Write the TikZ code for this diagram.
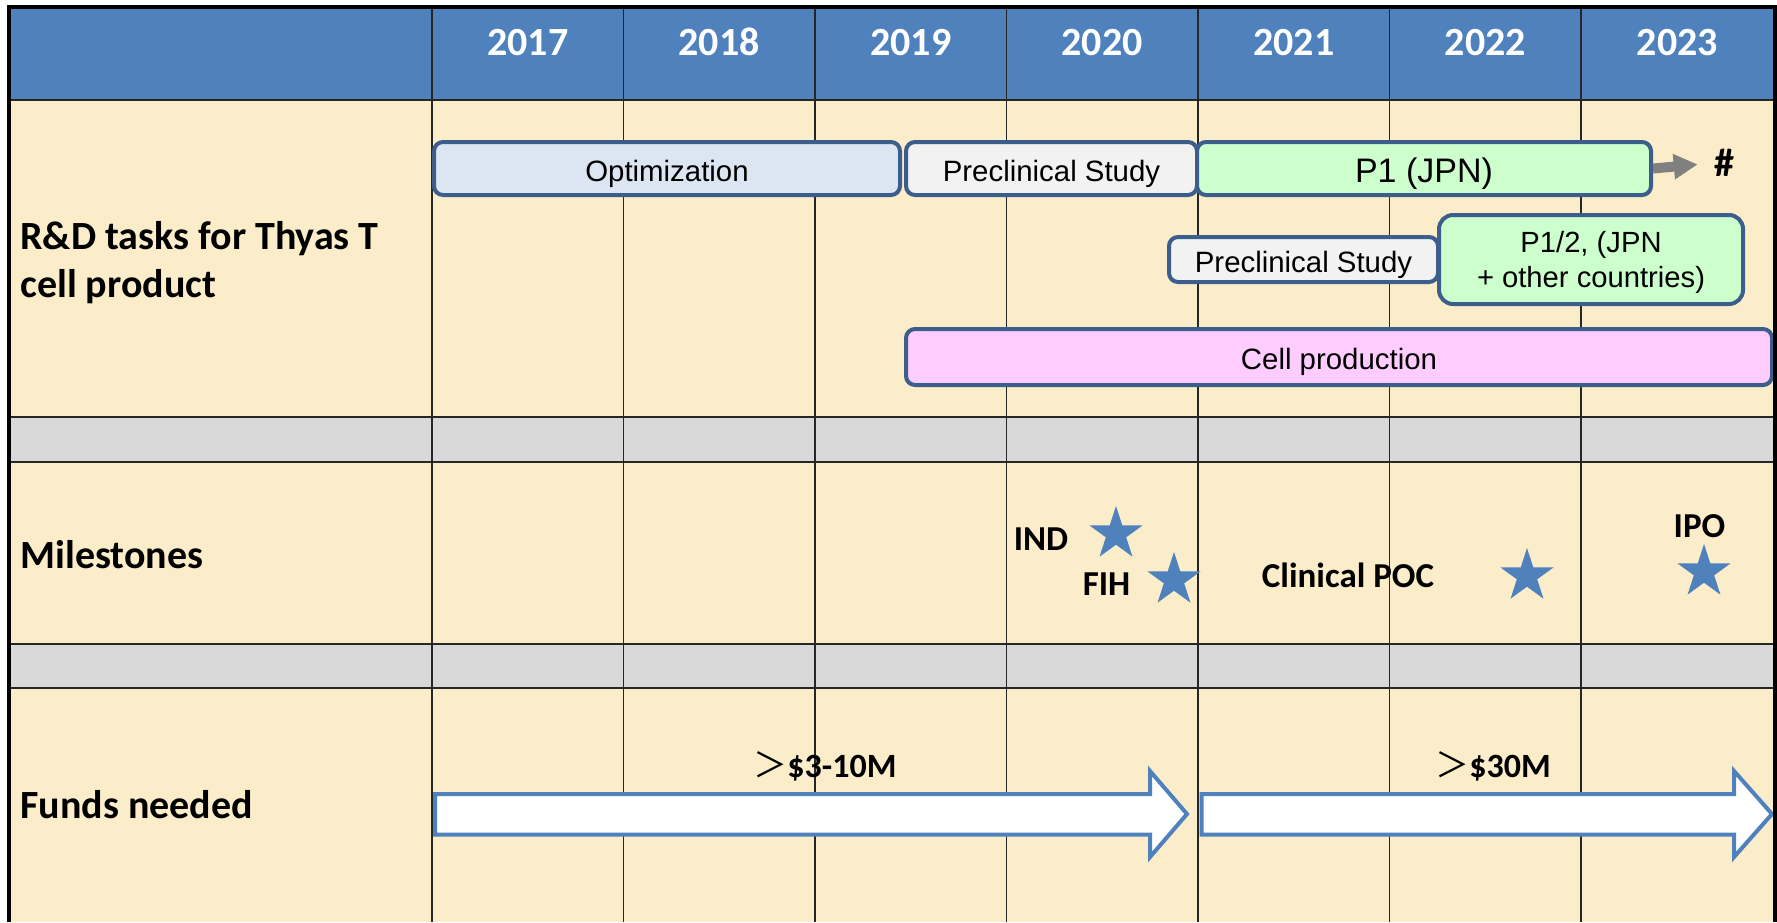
\documentclass[tikz,border=0pt]{standalone}
\usepackage{fontspec}
\setmainfont{Carlito}
\newfontfamily\arial{Liberation Sans}
\newfontfamily\cjk{Noto Sans CJK JP}
\usetikzlibrary{shapes.geometric,arrows.meta}
\definecolor{hdrblue}{HTML}{4F81BD}
\definecolor{cream}{HTML}{FBEDC9}
\definecolor{rowgray}{HTML}{D9D9D9}
\definecolor{barline}{HTML}{3C5E8C}
\definecolor{optfill}{HTML}{DCE6F2}
\definecolor{prefill}{HTML}{F2F2F2}
\definecolor{pgreen}{HTML}{CCFFCC}
\definecolor{cellfill}{HTML}{FFCCFF}
\definecolor{arrowgray}{HTML}{808080}
\begin{document}
\begin{tikzpicture}[x=0.5pt,y=-0.5pt,
  gridline/.style={draw=black!85, line width=0.6pt},
  bar/.style={draw=barline, line width=2pt, rounded corners=4.5pt, inner sep=0pt,
    font=\arial\fontsize{14.7}{17.5}\selectfont, text height=12.5pt, text depth=0pt},
  yearlbl/.style={anchor=base, text=white, font=\bfseries\fontsize{20}{24}\selectfont},
  rowlbl/.style={anchor=base west, inner sep=0pt, font=\bfseries\fontsize{20}{24}\selectfont},
  mslbl/.style={anchor=base, inner sep=0pt, font=\bfseries\fontsize{17.5}{21}\selectfont},
  milestar/.style={star, star points=5, star point ratio=2.618, fill=hdrblue, draw=none,
    inner sep=0pt, minimum size=28pt},
  fundarrow/.style={draw=hdrblue, line width=2pt, fill=white, miter limit=10},
  grayarrow/.style={draw=arrowgray, line width=5pt, -{Triangle[length=12pt,width=12pt]}}
]
\useasboundingbox (0,0) rectangle (1777,922);
% backgrounds
\fill[white] (0,0) rectangle (1777,922);
\fill[hdrblue] (9,7) rectangle (1775,100);
\fill[cream] (9,100) rectangle (1775,417);
\fill[rowgray] (9,417) rectangle (1775,462);
\fill[cream] (9,462) rectangle (1775,644);
\fill[rowgray] (9,644) rectangle (1775,688);
\fill[cream] (9,688) rectangle (1775,922);
% grid
\foreach \x in {432,623.5,815,1006.5,1198,1389.5,1581}
  \draw[gridline] (\x,7) -- (\x,922);
\foreach \y in {100,417,462,644,688}
  \draw[gridline] (9,\y) -- (1775,\y);
% years
\node[yearlbl] (y2017) at (527.75,55) {2017};
\node[yearlbl] (y2018) at (719.25,55) {2018};
\node[yearlbl] (y2019) at (910.75,55) {2019};
\node[yearlbl] (y2020) at (1102.25,55) {2020};
\node[yearlbl] (y2021) at (1293.75,55) {2021};
\node[yearlbl] (y2022) at (1485.25,55) {2022};
\node[yearlbl] (y2023) at (1677.25,55) {2023};
% row labels
\node[rowlbl] (rdA) at (20,249) {R\&D tasks for Thyas T};
\node[rowlbl] (rdB) at (20,297) {cell product};
\node[rowlbl] (ms) at (20,568) {Milestones};
\node[rowlbl] (fn) at (20,818) {Funds needed};
% bars
\node[bar, fill=optfill, minimum width=233pt, minimum height=26.5pt] (opt) at (667,168.5) {Optimization};
\node[bar, fill=prefill, minimum width=145.5pt, minimum height=26.5pt] (pre1) at (1051.5,168.5) {Preclinical Study};
\node[bar, fill=pgreen, minimum width=227pt, minimum height=26.5pt, font=\arial\fontsize{17}{20}\selectfont, text height=14.4pt] (p1) at (1424,168.5) {P1 (JPN)};
\node[bar, fill=prefill, minimum width=134.5pt, minimum height=22.5pt] (pre2) at (1303.5,259.5) {Preclinical Study};
\node[bar, fill=pgreen, minimum width=152pt, minimum height=44.5pt, rounded corners=7pt, font=\arial\fontsize{14.6}{17.5}\selectfont, text height=, text depth=] (p12) at (1591,259.5)
  {\raisebox{-1.8pt}[\height][\depth]{\begin{tabular}{@{}c@{}}P1/2, (JPN\\+ other countries)\end{tabular}}};
\node[bar, fill=cellfill, minimum width=433pt, minimum height=28pt] (cell) at (1339,357) {Cell production};
% hash and gray arrow
\node[inner sep=0pt, font=\bfseries\fontsize{20}{24}\selectfont] (hash) at (1724,163) {\#};
\draw[grayarrow, shorten >=8pt] (p1.east) -- (hash.west);
% milestones
\node[milestar] (sIND) at (1116,534) {};
\node[milestar] (sFIH) at (1174,580) {};
\node[milestar] (sPOC) at (1527,576) {};
\node[milestar] (sIPO) at (1704,572) {};
\node[mslbl] (lIND) at (1041,550) {IND};
\node[mslbl] (lFIH) at (1106.5,595) {FIH};
\node[mslbl] (lPOC) at (1348,587) {Clinical POC};
\node[mslbl] (lIPO) at (1699.5,537) {IPO};
% funds arrows
\draw[fundarrow] (435,794) -- (1150,794) -- (1150,771) -- (1187,814) -- (1150,857) -- (1150,834.5) -- (435,834.5) -- cycle;
\draw[fundarrow] (1201.5,794) -- (1734,794) -- (1734,771) -- (1772,814) -- (1734,857) -- (1734,834.5) -- (1201.5,834.5) -- cycle;
\node[mslbl, font=\bfseries\fontsize{17}{20}\selectfont] (f1) at (825,777) {{\mdseries\cjk ＞}\$3-10M};
\node[mslbl, font=\bfseries\fontsize{17}{20}\selectfont] (f2) at (1493,777) {{\mdseries\cjk ＞}\$30M};
% outer border
\draw[line width=2pt] (9,922) -- (9,7) -- (1775,7) -- (1775,922);
\end{tikzpicture}
\end{document}
